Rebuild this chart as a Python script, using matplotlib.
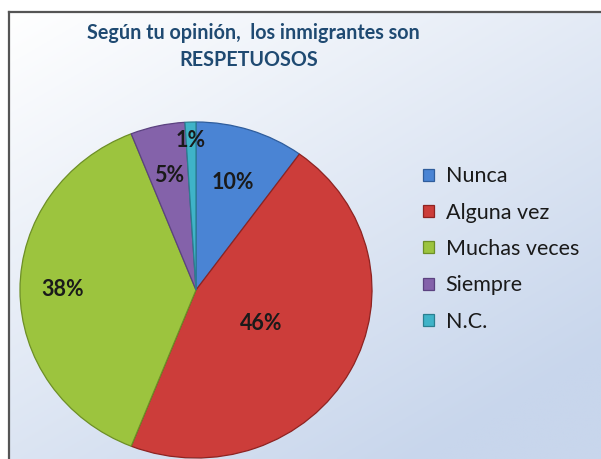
import numpy as np
import matplotlib.pyplot as plt
from matplotlib.lines import Line2D

labels = ['Nunca', 'Alguna vez', 'Muchas veces', 'Siempre', 'N.C.']
values = [10, 46, 38, 5, 1]
colors = ['#4a84d4', '#cc3d3a', '#9cc43e', '#8462aa', '#3fb3c8']
edges = ['#2f5d9c', '#8e2321', '#6d8f26', '#5b4280', '#2a7f90']
label_dist = [0.67, 0.42, 0.76, 0.70, 0.89]

W, H = 601, 459
fig = plt.figure(figsize=(W / 100, H / 100), dpi=100)

# background: white area outside the chart frame, then a diagonal gradient inside it
bg = fig.add_axes([0, 0, 1, 1], zorder=0)
bg.set_axis_off()
yy, xx = np.mgrid[0:1:200j, 0:1:200j]
t = np.clip(0.5 * xx + 0.65 * yy, 0, 1)
c0 = np.array([1.0, 1.0, 1.0])
c1 = np.array([0xc8, 0xd6, 0xec]) / 255
img = c0 + (c1 - c0) * t[..., None]
fx0, fy0 = 9 / W, 12 / H
bg.imshow(img, extent=[fx0, 1, 0, 1 - fy0], aspect='auto', origin='upper')
bg.set_xlim(0, 1)
bg.set_ylim(0, 1)
fig.add_artist(Line2D([fx0, fx0], [0, 1 - fy0], color='#555555', lw=1.6, transform=fig.transFigure))
fig.add_artist(Line2D([fx0, 1], [1 - fy0, 1 - fy0], color='#555555', lw=1.6, transform=fig.transFigure))

# pie (slightly taller than wide axes so it looks like the original)
cx, cy, rx, ry = 196, 290, 176, 168
ax = fig.add_axes([(cx - rx) / W, (H - cy - ry) / H, 2 * rx / W, 2 * ry / H], zorder=2)
wedges, _ = ax.pie(values, colors=colors, startangle=90, counterclock=False,
                   wedgeprops=dict(linewidth=0.9))
for w, ec in zip(wedges, edges):
    w.set_edgecolor(ec)
ax.set_aspect('auto')
ax.set_xlim(-1, 1)
ax.set_ylim(-1, 1)
ax.set_axis_off()

for w, v, d in zip(wedges, values, label_dist):
    ang = np.deg2rad((w.theta1 + w.theta2) / 2)
    ax.text(d * np.cos(ang), d * np.sin(ang), f'{v}%', ha='center', va='center',
            fontsize=15.5, fontweight='bold', color='#1a1a1a', family='Lato')

fig.text(253 / W, 1 - 33 / H, 'Según tu opinión,  los inmigrantes son', ha='center', va='center',
         fontsize=14.2, fontweight='bold', color='#1f4a72', family='Lato', zorder=3)
fig.text(249 / W, 1 - 60 / H, 'RESPETUOSOS', ha='center', va='center',
         fontsize=14.2, fontweight='bold', color='#1f4a72', family='Lato', zorder=3)

leg = fig.legend(wedges, labels, loc='upper left', bbox_to_anchor=(404 / W, 1 - 147 / H),
                 frameon=False, prop=dict(family='Lato', size=15.5),
                 handlelength=0.48, handleheight=0.48, handletextpad=0.55, labelspacing=0.76)
for t in leg.get_texts():
    t.set_color('#1a1a1a')

fig.savefig('out.png', dpi=100)
